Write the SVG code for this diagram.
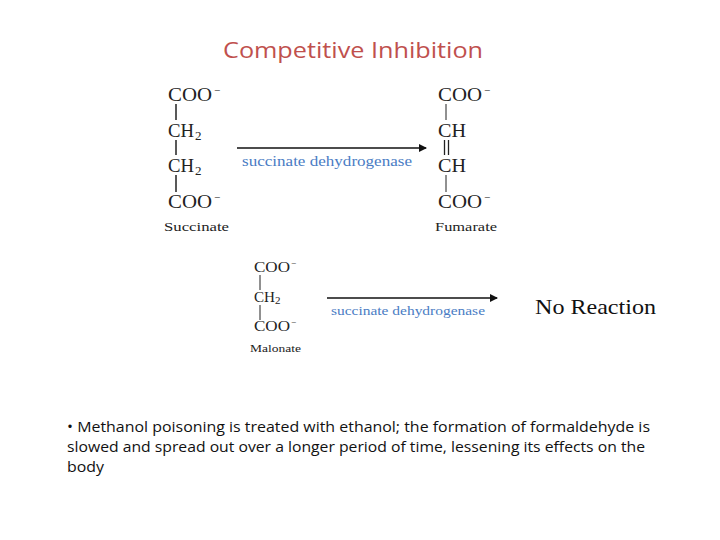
<svg xmlns="http://www.w3.org/2000/svg" width="720" height="540" viewBox="0 0 720 540">
<style>
.c{font-family:"Liberation Serif",serif;fill:#222}
.b{stroke:#222;stroke-width:1.5}
.e{font-family:"Liberation Serif",serif;fill:#4a7cc4}
.ar{stroke:#111;stroke-width:1.5;fill:none}
</style>
<defs><marker id="ah" markerWidth="8" markerHeight="8" refX="7" refY="4" orient="auto" markerUnits="userSpaceOnUse"><path d="M0,0 L8,4 L0,8 z" fill="#111"/></marker></defs>
<rect width="720" height="540" fill="#fff"/>
<text x="223" y="58" textLength="260" lengthAdjust="spacingAndGlyphs" font-family="'Open Sans',sans-serif" font-size="21" fill="#c0504d">Competitive Inhibition</text>
<g id="succinate" class="c" font-size="19">
<text x="168" y="101" textLength="44" lengthAdjust="spacingAndGlyphs">COO</text><text x="214" y="94" font-size="11">−</text>
<line class="b" x1="176" y1="104" x2="176" y2="120"/>
<text x="168" y="137" textLength="26" lengthAdjust="spacingAndGlyphs">CH</text><text x="195" y="140" font-size="13">2</text>
<line class="b" x1="176" y1="140" x2="176" y2="155"/>
<text x="168" y="172" textLength="26" lengthAdjust="spacingAndGlyphs">CH</text><text x="195" y="175" font-size="13">2</text>
<line class="b" x1="176" y1="175" x2="176" y2="192"/>
<text x="168" y="208" textLength="44" lengthAdjust="spacingAndGlyphs">COO</text><text x="214" y="201" font-size="11">−</text>
<text x="164" y="231" font-size="13" textLength="65" lengthAdjust="spacingAndGlyphs">Succinate</text>
</g>
<g id="fumarate" class="c" font-size="19">
<text x="438" y="101" textLength="44" lengthAdjust="spacingAndGlyphs">COO</text><text x="484" y="94" font-size="11">−</text>
<line x1="446" y1="104" x2="446" y2="120" stroke="#222"/>
<text x="438" y="137" textLength="28" lengthAdjust="spacingAndGlyphs">CH</text>
<line x1="444.5" y1="140" x2="444.5" y2="155" stroke="#222" stroke-width="1.3"/>
<line x1="448.5" y1="140" x2="448.5" y2="155" stroke="#222" stroke-width="1.3"/>
<text x="438" y="172" textLength="28" lengthAdjust="spacingAndGlyphs">CH</text>
<line x1="446" y1="175" x2="446" y2="192" stroke="#222"/>
<text x="438" y="208" textLength="44" lengthAdjust="spacingAndGlyphs">COO</text><text x="484" y="201" font-size="11">−</text>
<text x="435" y="231" font-size="13" textLength="62" lengthAdjust="spacingAndGlyphs">Fumarate</text>
</g>
<g id="malonate" class="c" font-size="15">
<text x="254" y="272" textLength="36" lengthAdjust="spacingAndGlyphs">COO</text><text x="291" y="266" font-size="9">−</text>
<line x1="260" y1="275" x2="260" y2="290" stroke="#222"/>
<text x="254" y="302" textLength="21" lengthAdjust="spacingAndGlyphs">CH</text><text x="275" y="304" font-size="11">2</text>
<line x1="260" y1="305" x2="260" y2="320" stroke="#222"/>
<text x="254" y="331" textLength="36" lengthAdjust="spacingAndGlyphs">COO</text><text x="291" y="325" font-size="9">−</text>
<text x="250" y="352" font-size="11" textLength="51" lengthAdjust="spacingAndGlyphs">Malonate</text>
</g>
<g id="noreaction"><text x="535" y="314" textLength="121" lengthAdjust="spacingAndGlyphs" font-family="'Liberation Serif',serif" font-size="21" fill="#111">No Reaction</text></g>
<g id="connectors">
<line class="ar" x1="237" y1="148" x2="426" y2="148" marker-end="url(#ah)"/>
<text class="e" x="242" y="166" textLength="170" lengthAdjust="spacingAndGlyphs" font-size="15">succinate dehydrogenase</text>
<line class="ar" x1="327" y1="298" x2="497" y2="298" marker-end="url(#ah)"/>
<text class="e" x="331" y="315" textLength="154" lengthAdjust="spacingAndGlyphs" font-size="13">succinate dehydrogenase</text>
</g>
<g id="note" font-family="'Open Sans',sans-serif" font-size="14" fill="#111">
<text x="67" y="432" textLength="583" lengthAdjust="spacingAndGlyphs">• Methanol poisoning is treated with ethanol; the formation of formaldehyde is</text>
<text x="67" y="452" textLength="578" lengthAdjust="spacingAndGlyphs">slowed and spread out over a longer period of time, lessening its effects on the</text>
<text x="67" y="472" textLength="37" lengthAdjust="spacingAndGlyphs">body</text>
</g>
</svg>
